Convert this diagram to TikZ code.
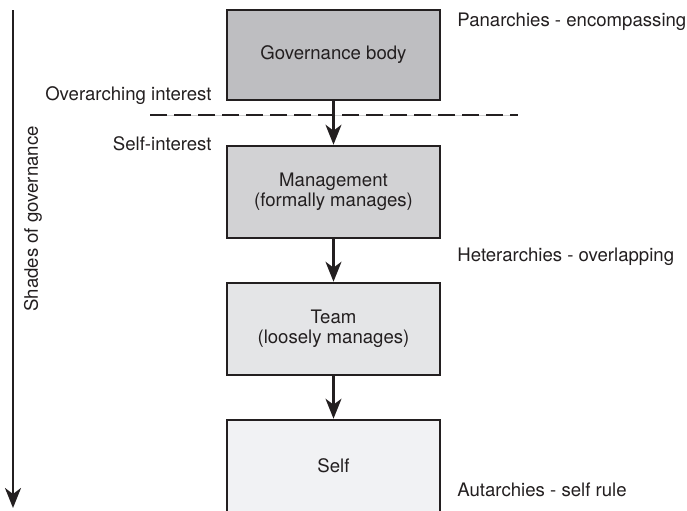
\documentclass[tikz,border=0pt]{standalone}
\usepackage{fontspec}
\setmainfont{TeX Gyre Heros}
\usepackage{tikz}
\usetikzlibrary{arrows.meta, positioning}
\usepackage{xcolor}
\definecolor{shadeA}{HTML}{BEBEC1}
\definecolor{shadeB}{HTML}{D2D2D4}
\definecolor{shadeC}{HTML}{E4E5E7}
\definecolor{shadeD}{HTML}{F1F2F4}
\definecolor{encre}{HTML}{231F20}
\tikzstyle{govbox} = [rectangle, minimum width = 106.5pt, minimum height = 45pt, text centered, align = center, draw = encre, line width = 1.3pt, inner sep = 0pt, text = encre]
\tikzstyle{flow} = [-{Stealth[length = 10pt, width = 8pt, inset = 3pt]}, line width = 1.2pt, draw = encre]
\tikzstyle{side} = [inner sep = 0pt, text = encre]

\begin{document}
\begin{tikzpicture}[x = 0.5pt, y = -0.5pt, font = \fontsize{9.3}{9.8}\selectfont]
\useasboundingbox (0,0) rectangle (687,510);
\node (1) [govbox, fill = shadeA] at (333.5,55) {Governance body};
\node (2) [govbox, fill = shadeB, minimum height = 46pt] at (333.5,192) {Management\\(formally manages)};
\node (3) [govbox, fill = shadeC, minimum height = 46pt] at (333.5,329) {Team\\(loosely manages)};
\node (4) [govbox, fill = shadeD, minimum height = 46pt] at (333.5,466) {Self};
\coordinate (dashL) at (150,115);
\coordinate (dashR) at (518,115);
\draw[gray!35, line width = 0.4pt] (dashL) -- (dashR);
\draw[encre, line width = 1.4pt, dash pattern = on 8.5pt off 3.5pt] (dashL) -- (dashR);
\draw[flow] (1) -- (2);
\draw[flow] (2) -- (3);
\draw[flow] (3) -- (4);
\coordinate (haut) at (13,10);
\coordinate (bas) at (13,508);
\draw[flow] (haut) -- (bas);
\node (shades) [side, rotate = 90] at (33,219) {Shades of governance};
\node (over) [side, anchor = base east] at (212,100) {Overarching interest};
\node (selfint) [side, anchor = base east] at (212,150) {Self-interest};
\node (pan) [side, anchor = base west] at (457,26) {Panarchies - encompassing};
\node (het) [side, anchor = base west] at (457,261) {Heterarchies - overlapping};
\node (aut) [side, anchor = base west] at (457,496) {Autarchies - self rule};
\end{tikzpicture}
\end{document}
